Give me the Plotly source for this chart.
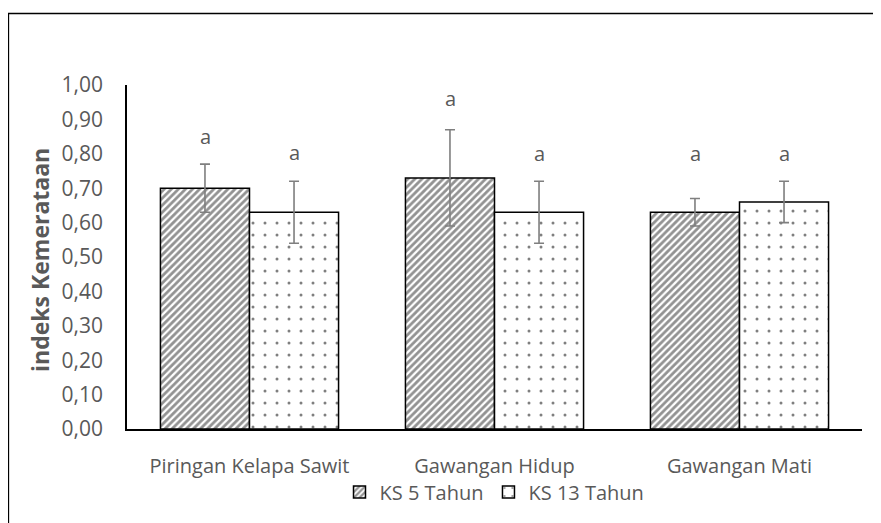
import plotly.graph_objects as go

categories = ["Piringan Kelapa Sawit", "Gawangan Hidup", "Gawangan Mati"]
series_names = ["KS 5 Tahun", "KS 13 Tahun"]
ks5_values = [0.70, 0.73, 0.63]
ks5_err = [0.07, 0.14, 0.04]
ks13_values = [0.63, 0.63, 0.66]
ks13_err = [0.09, 0.09, 0.06]
ks5_letters = ["a", "a", "a"]
ks13_letters = ["a", "a", "a"]
ks5_letter_y = [0.85, 0.96, 0.80]
ks13_letter_y = [0.805, 0.80, 0.80]
y_ticks = [0.0, 0.1, 0.2, 0.3, 0.4, 0.5, 0.6, 0.7, 0.8, 0.9, 1.0]
y_tick_labels = ["0,00", "0,10", "0,20", "0,30", "0,40", "0,50", "0,60", "0,70", "0,80", "0,90", "1,00"]

FONT = "Open Sans"
TXT = "#595959"
OFF = 8  # page body margin
W, H = 881 - OFF, 523 - OFF
L, R, T, B = 127 - OFF, 19, 85 - OFF, 94
pw, ph = W - L - R, H - T - B

fig = go.Figure()
fig.add_trace(go.Bar(
    name=series_names[0], x=categories, y=ks5_values,
    marker=dict(color="white", line=dict(color="black", width=1.5),
                pattern=dict(shape="/", fgcolor="#262626", bgcolor="white", size=5, solidity=0.55)),
    error_y=dict(type="data", array=ks5_err, color="#7f7f7f", thickness=1.6, width=5),
))
fig.add_trace(go.Bar(
    name=series_names[1], x=categories, y=ks13_values,
    marker=dict(color="white", line=dict(color="black", width=1.5),
                pattern=dict(shape=".", fgcolor="black", bgcolor="white", size=12, solidity=0.05)),
    error_y=dict(type="data", array=ks13_err, color="#7f7f7f", thickness=1.6, width=5),
))

# letters above bars
for i, c in enumerate(categories):
    fig.add_annotation(x=c, y=ks5_letter_y[i], text=ks5_letters[i], showarrow=False,
                       xshift=-44.5, font=dict(family=FONT, size=20, color=TXT))
    fig.add_annotation(x=c, y=ks13_letter_y[i], text=ks13_letters[i], showarrow=False,
                       xshift=44.5, font=dict(family=FONT, size=20, color=TXT))

# y axis title
fig.add_annotation(xref="paper", yref="paper", x=(40 - 127) / pw, y=(429 - 260) / ph,
                   xanchor="center", yanchor="middle",
                   text="<b>indeks Kemerataan</b>", textangle=-90, showarrow=False,
                   font=dict(family=FONT, size=23, color=TXT))

# outer chart border
fig.add_shape(type="rect", xref="paper", yref="paper",
              x0=(8.5 - 127) / pw, y0=-0.6, x1=1.2, y1=(429 - 13.5) / ph,
              line=dict(color="black", width=1.3), fillcolor="rgba(0,0,0,0)", layer="below")

fig.update_layout(
    width=W, height=H,
    margin=dict(l=L, r=R, t=T, b=B, pad=0, autoexpand=False),
    paper_bgcolor="white", plot_bgcolor="white",
    barmode="group", bargap=0.273, bargroupgap=0,
    font=dict(family=FONT, size=20, color=TXT),
    showlegend=True,
    legend=dict(orientation="h", x=0.5, xanchor="center", y=0.098, yanchor="top",
                yref="container", bgcolor="rgba(0,0,0,0)",
                font=dict(family=FONT, size=20, color=TXT), itemwidth=30),
    xaxis=dict(showline=True, linecolor="black", linewidth=1.5, ticks="", showgrid=False,
               tickfont=dict(family=FONT, size=20, color=TXT), ticklabelstandoff=18),
    yaxis=dict(range=[0, 1.0], tickvals=y_ticks, ticktext=y_tick_labels, showline=True,
               linecolor="black", linewidth=1.5, showgrid=False, zeroline=False, ticks="",
               tickfont=dict(family=FONT, size=21, color=TXT), ticklabelstandoff=18),
)

fig.write_html("out.html")
